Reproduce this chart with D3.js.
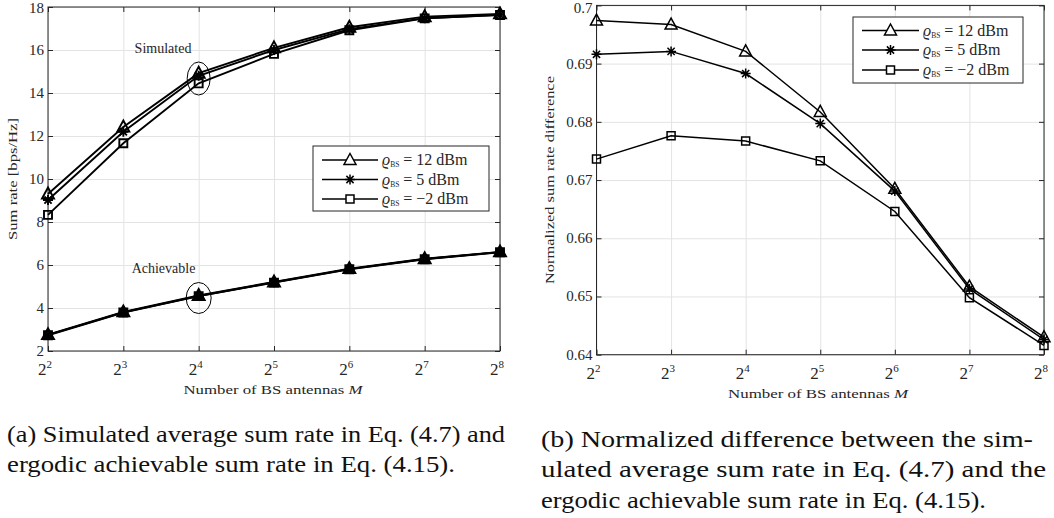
<!DOCTYPE html>
<html>
<head>
<meta charset="utf-8">
<script src="https://cdn.jsdelivr.net/npm/d3@7"></script>
<style>
  html, body { margin: 0; padding: 0; background: #fff; }
  svg { display: block; }
</style>
</head>
<body>
<svg id="chart" width="1054" height="518"></svg>
<script>
// ---------- DATA ----------
const antennas = [4, 8, 16, 32, 64, 128, 256];          // M = 2^2 ... 2^8
const tickExponents = [2, 3, 4, 5, 6, 7, 8];
const seriesNames = ["12", "5", "\u22122"];              // rho_BS in dBm
const markerTypes = ["triangle", "star", "square"];

// (a) Simulated average sum rate [bps/Hz]
const simulated12 = [9.3, 12.42, 14.92, 16.1, 17.06, 17.55, 17.68];
const simulated5  = [9.02, 12.2, 14.8, 16.0, 16.97, 17.48, 17.64];
const simulatedM2 = [8.33, 11.66, 14.45, 15.82, 16.92, 17.47, 17.63];
// (a) Ergodic achievable sum rate [bps/Hz]
const achievable12 = [2.76, 3.82, 4.58, 5.21, 5.83, 6.29, 6.61];
const achievable5  = [2.75, 3.8, 4.56, 5.2, 5.81, 6.28, 6.6];
const achievableM2 = [2.73, 3.79, 4.55, 5.18, 5.8, 6.27, 6.59];
// (b) Normalized sum rate difference
const normDiff12 = [0.6974, 0.6967, 0.6921, 0.6817, 0.6685, 0.6517, 0.6430];
const normDiff5  = [0.6916, 0.6921, 0.6883, 0.6797, 0.6681, 0.6513, 0.6426];
const normDiffM2 = [0.6736, 0.6776, 0.6767, 0.6733, 0.6646, 0.6498, 0.6416];

const leftYTicks = [2, 4, 6, 8, 10, 12, 14, 16, 18];
const rightYTicks = [0.64, 0.65, 0.66, 0.67, 0.68, 0.69, 0.7];
const rightYTickLabels = ["0.64", "0.65", "0.66", "0.67", "0.68", "0.69", "0.7"];

// ---------- SETUP ----------
const svg = d3.select("#chart");
const txtCol = "#262626";
const serif = "'Liberation Serif', 'DejaVu Serif', serif";

function markerPath(type) {
  if (type === "triangle") {
    return "M0,-6.5 L6,4.5 L-6,4.5 Z";
  } else if (type === "square") {
    return "M-4,-4 L4,-4 L4,4 L-4,4 Z";
  } else {
    const r = 5, d = 3.6;
    return `M0,${-r} L0,${r} M${-r},0 L${r},0 M${-d},${-d} L${d},${d} M${-d},${d} L${d},${-d}`;
  }
}

function drawPanel(cfg) {
  const x = d3.scaleLog().base(2).domain([4, 256]).range([cfg.x0, cfg.x1]);
  const y = d3.scaleLinear().domain(cfg.yDomain).range([cfg.y1, cfg.y0]);
  const g = svg.append("g");

  // grid
  g.append("g").attr("transform", `translate(0,${cfg.y1})`)
    .call(d3.axisBottom(x).tickValues(antennas).tickSize(-(cfg.y1 - cfg.y0)).tickFormat(""))
    .call(s => { s.select(".domain").remove(); s.selectAll("line").attr("stroke", "#e3e3e3").attr("stroke-width", 1); });
  g.append("g").attr("transform", `translate(${cfg.x0},0)`)
    .call(d3.axisLeft(y).tickValues(cfg.yTicks).tickSize(-(cfg.x1 - cfg.x0)).tickFormat(""))
    .call(s => { s.select(".domain").remove(); s.selectAll("line").attr("stroke", "#e3e3e3").attr("stroke-width", 1); });

  // inward ticks on all four sides
  const tickStyle = s => { s.select(".domain").remove(); s.selectAll("line").attr("stroke", txtCol).attr("stroke-width", 1); };
  g.append("g").attr("transform", `translate(0,${cfg.y1})`)
    .call(d3.axisBottom(x).tickValues(antennas).tickSize(-5).tickFormat("")).call(tickStyle);
  g.append("g").attr("transform", `translate(0,${cfg.y0})`)
    .call(d3.axisTop(x).tickValues(antennas).tickSize(-5).tickFormat("")).call(tickStyle);
  g.append("g").attr("transform", `translate(${cfg.x0},0)`)
    .call(d3.axisLeft(y).tickValues(cfg.yTicks).tickSize(-5).tickFormat("")).call(tickStyle);
  g.append("g").attr("transform", `translate(${cfg.x1},0)`)
    .call(d3.axisRight(y).tickValues(cfg.yTicks).tickSize(-5).tickFormat("")).call(tickStyle);

  // box
  g.append("rect").attr("x", cfg.x0).attr("y", cfg.y0)
    .attr("width", cfg.x1 - cfg.x0).attr("height", cfg.y1 - cfg.y0)
    .attr("fill", "none").attr("stroke", txtCol).attr("stroke-width", 1);

  // x tick labels 2^k
  antennas.forEach((m, i) => {
    const t = g.append("text").attr("x", x(m) - 3).attr("y", cfg.y1 + 24)
      .attr("text-anchor", "middle").attr("font-family", serif).attr("fill", txtCol).attr("font-size", 17);
    t.append("tspan").text("2");
    t.append("tspan").attr("dy", -7).attr("font-size", 11).text(tickExponents[i]);
  });
  // y tick labels
  cfg.yTicks.forEach((v, i) => {
    g.append("text").attr("x", cfg.x0 - 4).attr("y", Math.max(y(v) + 5, 13))
      .attr("text-anchor", "end").attr("font-family", serif).attr("fill", txtCol)
      .attr("font-size", 15).text(cfg.yTickLabels[i]);
  });
  // x label
  const xl = g.append("text").attr("x", cfg.xLabelX).attr("y", cfg.y1 + 43)
    .attr("text-anchor", "middle").attr("font-family", serif).attr("fill", txtCol)
    .attr("font-size", 13.5).attr("textLength", cfg.xLabelLen).attr("lengthAdjust", "spacingAndGlyphs");
  xl.append("tspan").text("Number of BS antennas ");
  xl.append("tspan").attr("font-style", "italic").text("M");
  // y label
  g.append("text").attr("transform", `translate(${cfg.yLabelX},${(cfg.y0 + cfg.y1) / 2}) rotate(-90)`)
    .attr("text-anchor", "middle").attr("font-family", serif).attr("fill", txtCol)
    .attr("font-size", 13.5).attr("textLength", cfg.yLabelLen).attr("lengthAdjust", "spacingAndGlyphs")
    .text(cfg.yLabel);

  // series
  const line = d3.line().x((d, i) => x(antennas[i])).y(d => y(d));
  cfg.series.forEach(s => {
    g.append("path").datum(s.values).attr("d", line)
      .attr("fill", "none").attr("stroke", "#000").attr("stroke-width", cfg.lw);
    g.selectAll(null).data(s.values).enter().append("path")
      .attr("transform", (d, i) => `translate(${x(antennas[i])},${y(d)})`)
      .attr("d", markerPath(s.marker))
      .attr("fill", s.fill || "none").attr("stroke", "#000").attr("stroke-width", cfg.lw);
  });

  // legend
  const L = cfg.legend;
  g.append("rect").attr("x", L.x0).attr("y", L.y0).attr("width", L.x1 - L.x0).attr("height", L.y1 - L.y0)
    .attr("fill", "#fff").attr("stroke", txtCol).attr("stroke-width", 1);
  seriesNames.forEach((nm, i) => {
    const ry = L.rows[i];
    g.append("line").attr("x1", L.lx0).attr("x2", L.lx1).attr("y1", ry).attr("y2", ry)
      .attr("stroke", "#000").attr("stroke-width", 1.5);
    g.append("path").attr("transform", `translate(${(L.lx0 + L.lx1) / 2},${ry})`)
      .attr("d", markerPath(markerTypes[i])).attr("fill", "#fff").attr("stroke", "#000").attr("stroke-width", 1.5);
    const t = g.append("text").attr("x", L.tx).attr("y", ry + 5).attr("font-family", serif)
      .attr("fill", txtCol).attr("font-size", 16);
    t.append("tspan").attr("font-style", "italic").text("\u03F1");
    t.append("tspan").attr("font-size", 7.5).attr("dy", 2).text("BS");
    t.append("tspan").attr("dy", -2).text(" = " + nm + " dBm");
  });
  return { x, y, g };
}

// ---------- PANEL (a) ----------
const A = drawPanel({
  x0: 48, x1: 500, y0: 7, y1: 351,
  yDomain: [2, 18], yTicks: leftYTicks, yTickLabels: leftYTicks.map(String),
  yLabel: "Sum rate [bps/Hz]", yLabelX: 17, yLabelLen: 122,
  xLabelX: 273, xLabelLen: 179, lw: 1.9,
  series: [
    { values: simulated12, marker: "triangle" },
    { values: simulated5, marker: "star" },
    { values: simulatedM2, marker: "square" },
    { values: achievable12, marker: "triangle", fill: "#000" },
    { values: achievable5, marker: "star" },
    { values: achievableM2, marker: "square", fill: "#000" }
  ],
  legend: { x0: 313, x1: 489, y0: 146, y1: 211, rows: [160, 179.5, 199], lx0: 322, lx1: 378, tx: 382 }
});
// annotations
A.g.append("text").attr("x", 163).attr("y", 53).attr("text-anchor", "middle")
  .attr("font-family", serif).attr("font-size", 14).attr("fill", txtCol).text("Simulated");
A.g.append("ellipse").attr("cx", A.x(16)).attr("cy", 78.5).attr("rx", 11.5).attr("ry", 16.5)
  .attr("fill", "none").attr("stroke", "#000").attr("stroke-width", 1);
A.g.append("text").attr("x", 163.5).attr("y", 272.5).attr("text-anchor", "middle")
  .attr("font-family", serif).attr("font-size", 14).attr("fill", txtCol).text("Achievable");
A.g.append("ellipse").attr("cx", A.x(16)).attr("cy", 298).attr("rx", 12.5).attr("ry", 15.5)
  .attr("fill", "none").attr("stroke", "#000").attr("stroke-width", 1);

// ---------- PANEL (b) ----------
drawPanel({
  x0: 596.5, x1: 1044, y0: 5.4, y1: 354.7,
  yDomain: [0.64, 0.7], yTicks: rightYTicks, yTickLabels: rightYTickLabels,
  yLabel: "Normalized sum rate difference", yLabelX: 554, yLabelLen: 208,
  xLabelX: 818, xLabelLen: 180, lw: 1.5,
  series: [
    { values: normDiff12, marker: "triangle" },
    { values: normDiff5, marker: "star" },
    { values: normDiffM2, marker: "square" }
  ],
  legend: { x0: 853, x1: 1023, y0: 17, y1: 83, rows: [30.5, 50, 70], lx0: 862, lx1: 919, tx: 923 }
});

// ---------- CAPTIONS ----------
const capFont = "'Liberation Serif', serif";
const caps = [
  { x: 7, y: 442, len: 498, t: "(a) Simulated average sum rate in Eq. (4.7) and" },
  { x: 7, y: 472, len: 448, t: "ergodic achievable sum rate in Eq. (4.15)." },
  { x: 541, y: 446.5, len: 492, t: "(b) Normalized difference between the sim-" },
  { x: 541, y: 477, len: 505, t: "ulated average sum rate in Eq. (4.7) and the" },
  { x: 541, y: 507.5, len: 445, t: "ergodic achievable sum rate in Eq. (4.15)." }
];
svg.selectAll(".cap").data(caps).enter().append("text")
  .attr("x", d => d.x).attr("y", d => d.y)
  .attr("font-family", capFont).attr("font-size", 23).attr("fill", "#111")
  .attr("textLength", d => d.len).attr("lengthAdjust", "spacingAndGlyphs")
  .text(d => d.t);
</script>
</body>
</html>
